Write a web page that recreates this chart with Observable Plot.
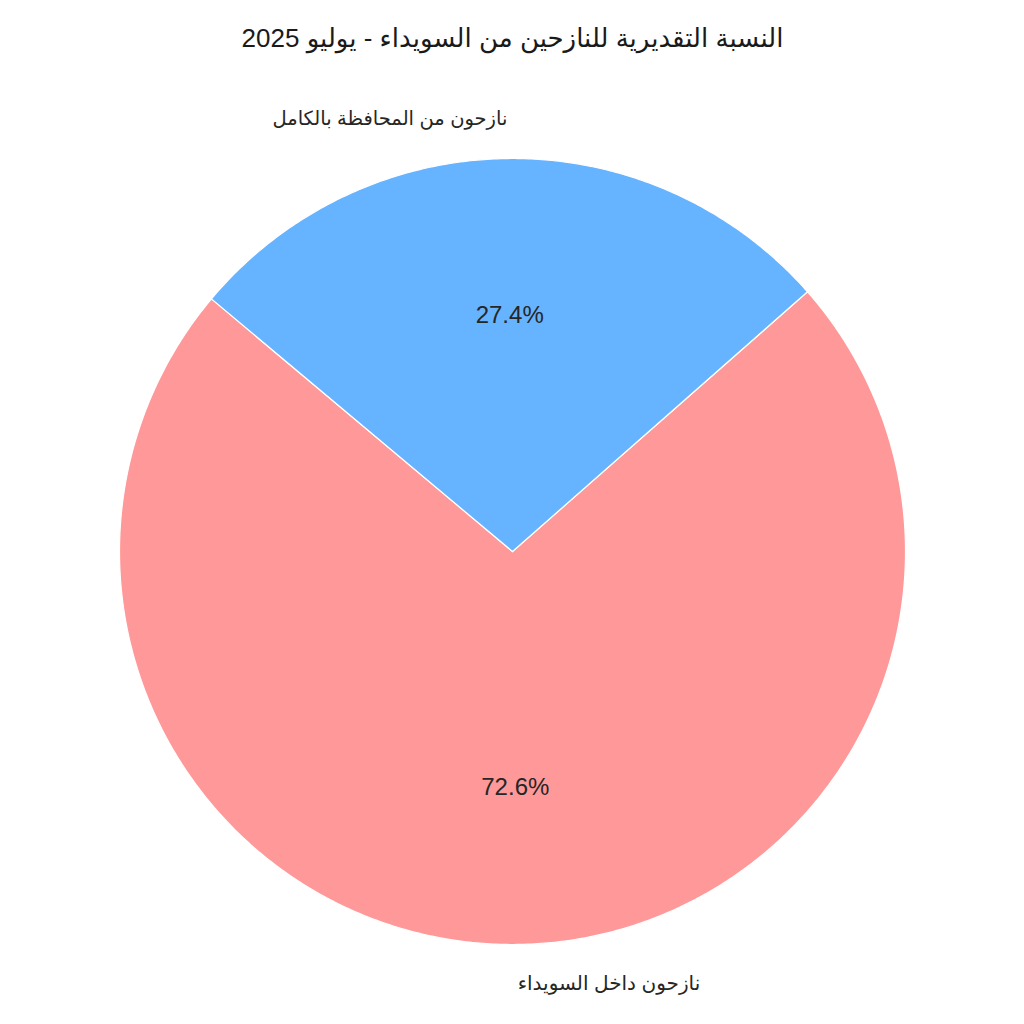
<!DOCTYPE html>
<html>
<head>
<meta charset="utf-8">
<script src="https://cdn.jsdelivr.net/npm/d3@7"></script>
<script src="https://cdn.jsdelivr.net/npm/@observablehq/plot@0.6"></script>
<style>
  body { margin: 0; background: #fff; }
  #chart svg { display: block; }
</style>
</head>
<body>
<div id="chart"></div>
<script>
const title = "النسبة التقديرية للنازحين من السويداء - يوليو 2025";
const labels = ["نازحون داخل السويداء", "نازحون من المحافظة بالكامل"];
const values = [72.6, 27.4];
const colors = ["#ff9999", "#66b3ff"];
const startAngle = 140; // degrees, counter-clockwise from 3 o'clock

const W = 1024, H = 1024;
const R = 393, cx = 512, cy = 551;

const total = d3.sum(values);
let a = startAngle;
const wedges = values.map((v, i) => {
  const span = v / total * 360;
  const w = {label: labels[i], value: v, color: colors[i], t1: a, t2: a + span};
  a += span;
  return w;
});
const rad = d => d * Math.PI / 180;

// polygon points for each wedge
const pts = [];
for (const w of wedges) {
  pts.push({label: w.label, x: 0, y: 0, color: w.color});
  const n = Math.ceil(w.t2 - w.t1) * 2;
  for (let k = 0; k <= n; k++) {
    const t = rad(w.t1 + (w.t2 - w.t1) * k / n);
    pts.push({label: w.label, x: Math.cos(t), y: Math.sin(t), color: w.color});
  }
  pts.push({label: w.label, x: 0, y: 0, color: w.color});
}

const labelData = wedges.map(w => {
  const m = rad((w.t1 + w.t2) / 2);
  return {
    label: w.label,
    pct: w.value.toFixed(1) + "%",
    lx: 1.1 * Math.cos(m), ly: 1.1 * Math.sin(m),
    px: 0.6 * Math.cos(m), py: 0.6 * Math.sin(m),
    anchor: Math.cos(m) < 0 ? "end" : "start"
  };
});

const plot = Plot.plot({
  width: W, height: H,
  margin: 0,
  style: {fontFamily: "'Liberation Sans', Arial, 'DejaVu Sans', sans-serif", background: "#fff"},
  x: {domain: [-cx / R, (W - cx) / R], range: [0, W], axis: null},
  y: {domain: [-(H - cy) / R, cy / R], range: [H, 0], axis: null},
  marks: [
    Plot.line(pts, {x: "x", y: "y", z: "label", fill: "color", stroke: "white", strokeWidth: 1.2, curve: "linear", strokeLinejoin: "round"}),
    Plot.text(labelData, {x: "px", y: "py", text: "pct", fontSize: 24, fill: "#262626", textAnchor: "middle"}),
    Plot.text(labelData.filter(d => d.anchor === "end"), {x: "lx", y: "ly", text: "label", fontSize: 19.5, fill: "#262626", textAnchor: "end"}),
    Plot.text(labelData.filter(d => d.anchor === "start"), {x: "lx", y: "ly", text: "label", fontSize: 20, fill: "#262626", textAnchor: "start"}),
    Plot.text([title], {frameAnchor: "top", dy: 38, lineAnchor: "middle", text: d => d, fontSize: 26, fill: "#1a1a1a", textAnchor: "middle"})
  ]
});
document.getElementById("chart").appendChild(plot);
</script>
</body>
</html>
